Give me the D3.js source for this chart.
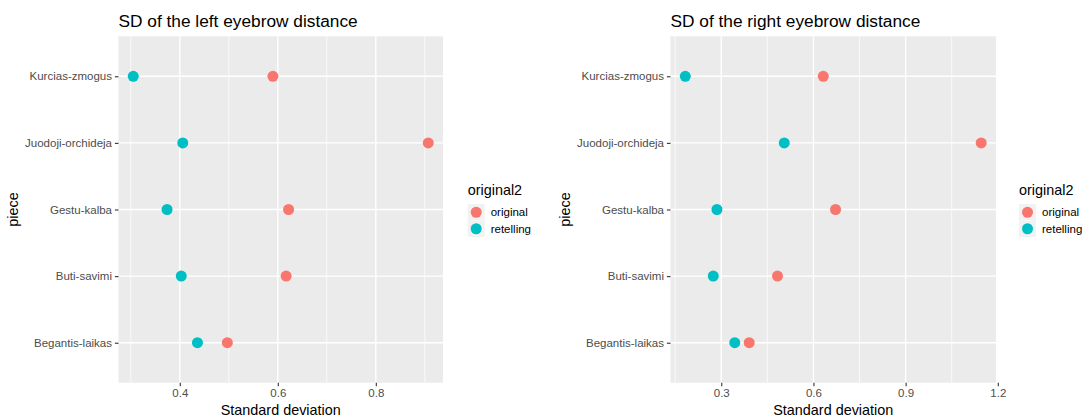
<!DOCTYPE html>
<html>
<head>
<meta charset="utf-8">
<script src="https://cdn.jsdelivr.net/npm/d3@7"></script>
<style>
  body { margin: 0; background: #fff; }
  text { font-family: "Liberation Sans", Arial, Helvetica, sans-serif; }
</style>
</head>
<body>
<script>
// categories, bottom to top as drawn
const pieces = ["Begantis-laikas", "Buti-savimi", "Gestu-kalba", "Juodoji-orchideja", "Kurcias-zmogus"];
const groups = ["original", "retelling"];

// left eyebrow SD
const leftOriginal  = [0.497, 0.617, 0.622, 0.907, 0.590];
const leftRetelling = [0.436, 0.403, 0.374, 0.406, 0.305];
const leftTicks = [0.4, 0.6, 0.8];

// right eyebrow SD
const rightOriginal  = [0.391, 0.483, 0.672, 1.146, 0.632];
const rightRetelling = [0.344, 0.274, 0.286, 0.505, 0.183];
const rightTicks = [0.3, 0.6, 0.9, 1.2];

const colors = {original: "#F8766D", retelling: "#00BFC4"};

const width = 1084, height = 420;
const panelTop = 36.3, panelBottom = 382.7;

const svg = d3.select("body").append("svg")
  .attr("width", width).attr("height", height);

function drawPanel(opts) {
  const g = svg.append("g");
  const rows = [];
  pieces.forEach(function(p, i) {
    rows.push({piece: p, group: "original", sd: opts.orig[i]});
    rows.push({piece: p, group: "retelling", sd: opts.ret[i]});
  });

  const lo = d3.min(rows, d => d.sd), hi = d3.max(rows, d => d.sd);
  const pad = (hi - lo) * 0.05;

  const x = d3.scaleLinear().domain([lo - pad, hi + pad]).range([opts.x0, opts.x1]);
  const y = d3.scalePoint().domain(pieces).range([panelBottom, panelTop]).padding(0.6);

  // panel
  g.append("rect")
    .attr("x", opts.x0).attr("y", panelTop)
    .attr("width", opts.x1 - opts.x0).attr("height", panelBottom - panelTop)
    .attr("fill", "#EBEBEB");

  // minor grid: halfway between majors
  const step = opts.ticks[1] - opts.ticks[0];
  const minors = [opts.ticks[0] - step / 2].concat(opts.ticks.map(t => t + step / 2))
    .filter(v => v >= x.domain()[0] && v <= x.domain()[1]);
  g.selectAll(".minor").data(minors).enter().append("line")
    .attr("x1", d => x(d)).attr("x2", d => x(d))
    .attr("y1", panelTop).attr("y2", panelBottom)
    .attr("stroke", "#fff").attr("stroke-width", 0.7);

  g.selectAll(".vmajor").data(opts.ticks.filter(v => v <= x.domain()[1])).enter().append("line")
    .attr("x1", d => x(d)).attr("x2", d => x(d))
    .attr("y1", panelTop).attr("y2", panelBottom)
    .attr("stroke", "#fff").attr("stroke-width", 1.4);

  g.selectAll(".hmajor").data(pieces).enter().append("line")
    .attr("x1", opts.x0).attr("x2", opts.x1)
    .attr("y1", d => y(d)).attr("y2", d => y(d))
    .attr("stroke", "#fff").attr("stroke-width", 1.4);

  // points
  g.selectAll(".pt").data(rows).enter().append("circle")
    .attr("cx", d => x(d.sd)).attr("cy", d => y(d.piece))
    .attr("r", 5.5)
    .attr("fill", d => colors[d.group]);

  // axes
  const xAxis = g.append("g")
    .attr("transform", "translate(0," + panelBottom + ")")
    .call(d3.axisBottom(x).tickValues(opts.ticks).tickSize(3.6).tickPadding(2.4).tickFormat(d3.format(".1f")));
  const yAxis = g.append("g")
    .attr("transform", "translate(" + opts.x0 + ",0)")
    .call(d3.axisLeft(y).tickSize(3.6).tickPadding(2.9));

  [xAxis, yAxis].forEach(function(a) {
    a.select(".domain").remove();
    a.selectAll(".tick line").attr("stroke", "#333").attr("stroke-width", 1.1);
    a.selectAll(".tick text").attr("fill", "#4D4D4D").style("font-size", "11.5px");
  });

  // titles
  g.append("text")
    .attr("x", opts.x0).attr("y", 27)
    .style("font-size", "17.3px").attr("fill", "#000")
    .text(opts.title);

  g.append("text")
    .attr("x", (opts.x0 + opts.x1) / 2).attr("y", 414.5)
    .attr("text-anchor", "middle")
    .style("font-size", "14.4px").attr("fill", "#000")
    .text("Standard deviation");

  g.append("text")
    .attr("transform", "translate(" + (opts.x0 - 101) + "," + ((panelTop + panelBottom) / 2) + ") rotate(-90)")
    .attr("text-anchor", "middle")
    .style("font-size", "14.4px").attr("fill", "#000")
    .text("piece");

  // legend
  const lg = g.append("g").attr("transform", "translate(" + opts.legendX + ",0)");
  lg.append("text")
    .attr("x", 0).attr("y", 195)
    .style("font-size", "14.4px").attr("fill", "#000")
    .text("original2");

  const keys = lg.selectAll(".key").data(groups).enter().append("g")
    .attr("transform", (d, i) => "translate(0," + (204 + i * 16.5) + ")");
  keys.append("rect")
    .attr("width", 17).attr("height", 16.5)
    .attr("fill", "#F2F2F2");
  keys.append("circle")
    .attr("cx", 8.5).attr("cy", 8.25).attr("r", 5.5)
    .attr("fill", d => colors[d]);
  keys.append("text")
    .attr("x", 23).attr("y", 12.3)
    .style("font-size", "11.5px").attr("fill", "#000")
    .text(d => d);
}

drawPanel({title: "SD of the left eyebrow distance", x0: 118.5, x1: 443,
  orig: leftOriginal, ret: leftRetelling, ticks: leftTicks, legendX: 467.7});
drawPanel({title: "SD of the right eyebrow distance", x0: 670.5, x1: 996,
  orig: rightOriginal, ret: rightRetelling, ticks: rightTicks, legendX: 1019});
</script>
</body>
</html>
